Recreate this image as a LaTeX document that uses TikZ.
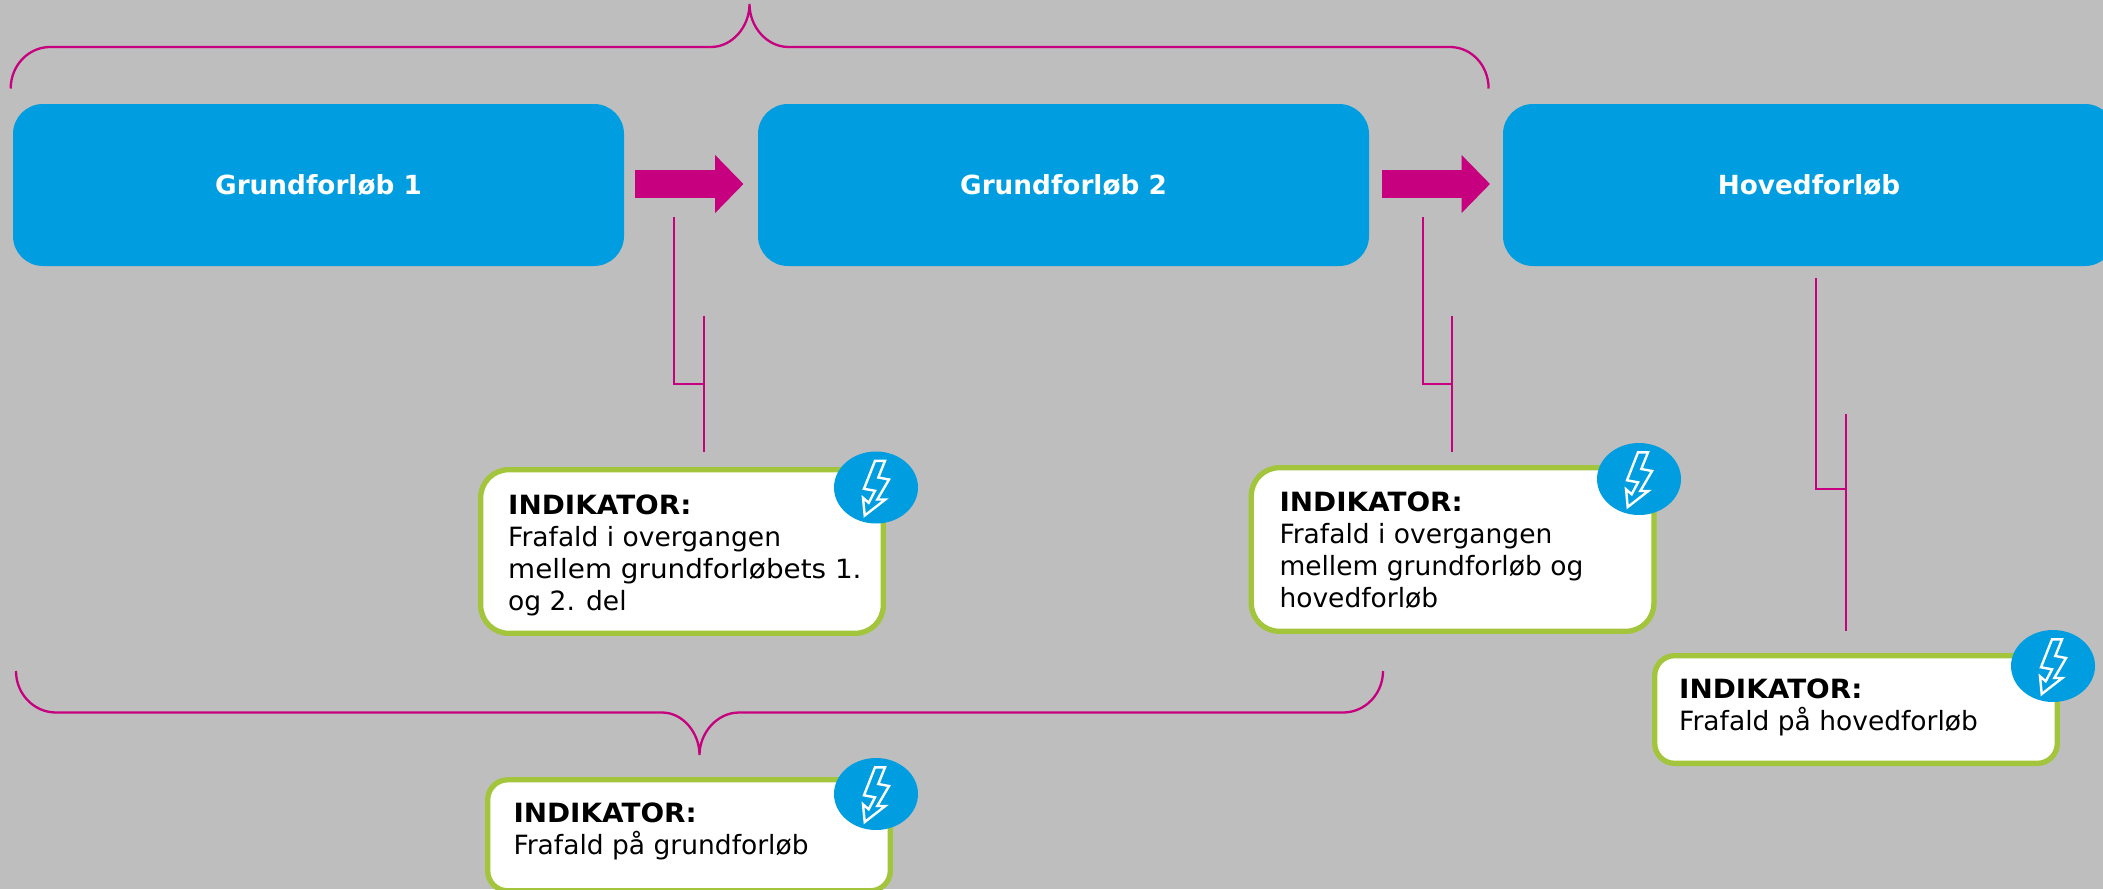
\documentclass[tikz,border=0pt]{standalone}
\usepackage{fontspec}
\setmainfont{DejaVu Sans}
\newfontfamily\indfont[BoldFeatures={FakeStretch=1.05}]{DejaVu Sans}
\newfontfamily\indwide[FakeStretch=1.05]{DejaVu Sans}
\usetikzlibrary{arrows.meta,shapes.geometric}
\definecolor{bgc}{HTML}{BEBEBE}
\definecolor{bluec}{HTML}{009EE0}
\definecolor{magc}{HTML}{C6007E}
\definecolor{greenc}{HTML}{A3C53C}
\tikzset{
  x=1pt,y=-1pt,
  phase/.style={fill=bluec,rounded corners=30pt,minimum width=#1,minimum height=162pt,inner sep=0pt,outer sep=0pt,
    text=white,font=\fontsize{26.3}{32}\selectfont\bfseries},
  indbox/.style={draw=greenc,fill=white,line width=5.3pt,rounded corners=#1,minimum width=402.6pt,inner sep=0pt},
  indtext/.style={anchor=base west,inner sep=0pt,align=left,font=\indfont\fontsize{26.5}{32}\selectfont},
  badge/.style={ellipse,fill=bluec,minimum width=84pt,minimum height=72pt,inner sep=0pt},
  blockarrow/.style={line width=28.7pt,draw=magc,-{Triangle[length=28.5pt,width=56.5pt]}},
  bracket/.style={draw=magc,line width=2.3pt},
  link/.style={draw=magc,line width=2pt},
  pics/bolt/.style={code={
    \draw[white,line width=2.4pt,miter limit=6]
      (-1,-26.7)--(9,-26.7)--(2.3,-10)--(13,-8)--(1.3,12)--(9.3,12)--(-11.3,28)--(-13,10.3)--(-7.3,15.3)--(-1,3.3)--(-12,1.3)--cycle;
  }}
}
\begin{document}
\begin{tikzpicture}
\path[use as bounding box,fill=bgc] (0,0) rectangle (2103,889);
\clip (0,0) rectangle (2103,889);

% phases
\node[phase=611pt] (g1) at (318.5,185) {Grundforløb 1};
\node[phase=611pt] (g2) at (1063.5,185) {Grundforløb 2};
\node[phase=612pt] (g3) at (1809,185) {Hovedforløb};

% block arrows
\draw[blockarrow] ([xshift=11pt]g1.east) ++(0,-1) -- ([xshift=-14.5pt,yshift=1pt]g2.west);
\draw[blockarrow] ([xshift=13pt]g2.east) ++(0,-1) -- ([xshift=-13pt,yshift=1pt]g3.west);

% braces
\coordinate (tl) at (10.7,88.5);
\coordinate (tm) at (749.5,4);
\coordinate (tr) at (1488.6,88.5);
\draw[bracket] (tl) .. controls (10.7,65) and (29,47) .. (50,47) -- (711,47)
  .. controls (732,47) and (749.5,27) .. (tm)
  .. controls (749.5,27) and (767,47) .. (788.5,47) -- (1450,47)
  .. controls (1471,47) and (1488.6,65) .. (tr);
\coordinate (bl) at (16,671);
\coordinate (bm) at (699.5,755);
\coordinate (br) at (1383,671);
\draw[bracket] (bl) .. controls (16,694) and (34,712.5) .. (56,712.5) -- (662,712.5)
  .. controls (683,712.5) and (699.5,733) .. (bm)
  .. controls (699.5,733) and (717,712.5) .. (739,712.5) -- (1343,712.5)
  .. controls (1365,712.5) and (1383,694) .. (br);

% indicator boxes
\node[indbox=28pt,minimum height=163.6pt] (ia) at (682,551.5) {};
\node[indbox=28pt,minimum height=163.6pt] (ib) at (1452.6,549.5) {};
\node[indbox=20pt,minimum height=107.7pt] (ic) at (1856,709.5) {};
\node[indbox=20pt,minimum height=111pt] (id) at (689,835.3) {};

% indicator texts
\node[indtext] (ta) at (508,610) {\textbf{INDIKATOR:}\\Frafald i overgangen\\{\indwide mellem grundforløbets 1.}\\og 2. del};
\node[indtext] (tb) at (1279.3,607.7) {\textbf{INDIKATOR:}\\Frafald i overgangen\\mellem grundforløb og\\hovedforløb};
\node[indtext] (tc) at (1679,730) {\textbf{INDIKATOR:}\\Frafald på hovedforløb};
\node[indtext] (td) at (513.3,854) {\textbf{INDIKATOR:}\\Frafald på grundforløb};

% badges
\node[badge] (ba) at (876,487.5) {};
\node[badge] (bb) at (1639,479) {};
\node[badge] (bc) at (2053,666) {};
\node[badge] (bd) at (876,794) {};
\path (ba.center) pic {bolt};
\path (bb.center) pic {bolt};
\path (bc.center) pic {bolt};
\path (bd.center) pic {bolt};

% links
\coordinate (a1) at (674.3,217); \coordinate (a2) at (674.3,384); \coordinate (a3) at (704.3,384);
\coordinate (a4) at (704.3,315.7); \coordinate (a5) at (704.3,451.7);
\draw[link] (a1) -- (a2) -- (a3);
\draw[link] (a4) -- (a5);
\coordinate (b1) at (1422.7,217); \coordinate (b2) at (1422.7,384); \coordinate (b3) at (1452.3,384);
\coordinate (b4) at (1452.3,315.7); \coordinate (b5) at (1452.3,451.7);
\draw[link] (b1) -- (b2) -- (b3);
\draw[link] (b4) -- (b5);
\coordinate (c1) at (1816,278); \coordinate (c2) at (1816,489); \coordinate (c3) at (1845.5,489);
\coordinate (c4) at (1845.5,414); \coordinate (c5) at (1845.5,631);
\draw[link] (c1) -- (c2) -- (c3);
\draw[link] (c4) -- (c5);
\end{tikzpicture}
\end{document}
